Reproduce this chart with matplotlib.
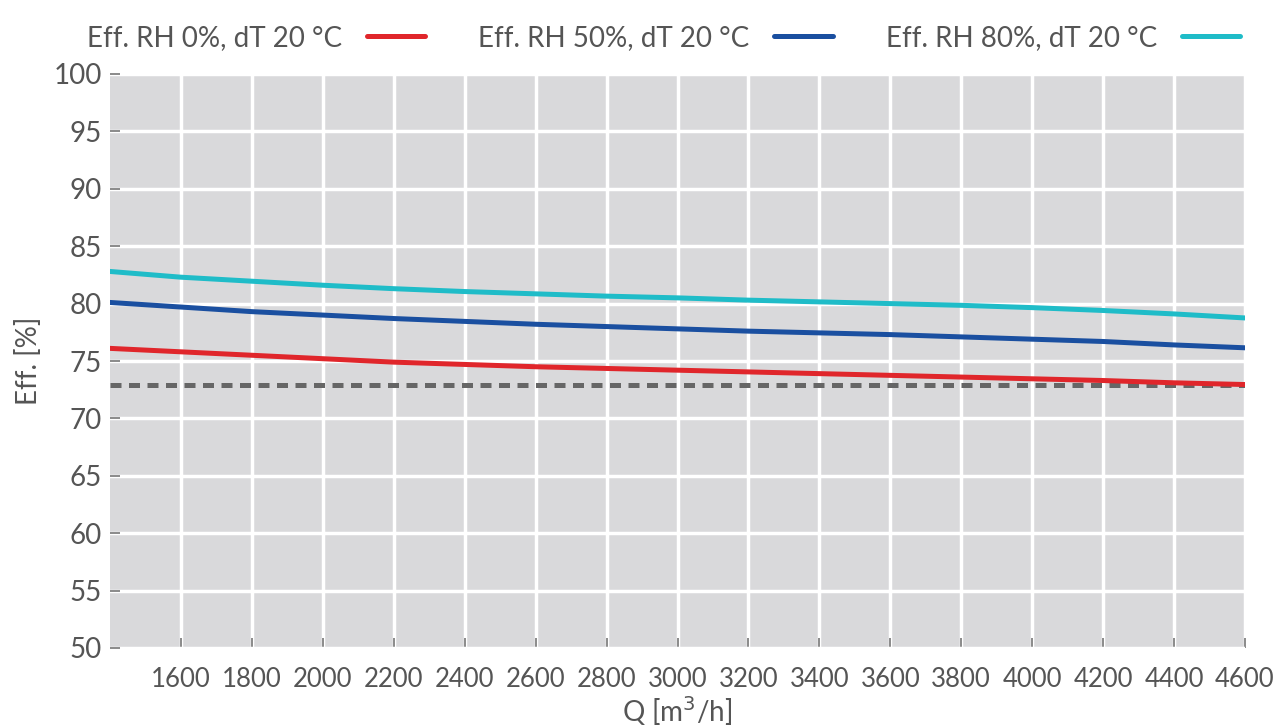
import matplotlib
matplotlib.use('Agg')
import matplotlib.pyplot as plt
import numpy as np

# data
q = [1400, 1600, 1800, 2000, 2200, 2400, 2600, 2800, 3000, 3200, 3400, 3600, 3800, 4000, 4200, 4400, 4600]
eff_rh0 = [76.1, 75.8, 75.5, 75.2, 74.9, 74.7, 74.5, 74.35, 74.2, 74.05, 73.9, 73.75, 73.6, 73.45, 73.3, 73.1, 72.95]
eff_rh50 = [80.1, 79.7, 79.3, 79.0, 78.7, 78.45, 78.2, 78.0, 77.8, 77.6, 77.45, 77.3, 77.1, 76.9, 76.7, 76.4, 76.15]
eff_rh80 = [82.8, 82.3, 81.95, 81.6, 81.3, 81.05, 80.85, 80.65, 80.5, 80.3, 80.15, 80.0, 79.85, 79.65, 79.4, 79.1, 78.75]
eff_limit = 72.9

x_ticks = list(range(1600, 4601, 200))
y_ticks = list(range(50, 101, 5))

txt = '#555555'
plt.rcParams['font.family'] = ['Lato', 'DejaVu Sans']

fig = plt.figure(figsize=(12.77, 7.27), dpi=100)
ax = fig.add_axes([110/1277, 1 - 648/727, 1135/1277, 574/727])
ax.set_facecolor('#d9d9db')

ax.plot(q, eff_rh0, color='#e0262b', lw=3.6, solid_capstyle='round', label='Eff. RH 0%, dT 20 °C', zorder=3)
ax.plot(q, eff_rh50, color='#1a4fa0', lw=3.6, solid_capstyle='round', label='Eff. RH 50%, dT 20 °C', zorder=3)
ax.plot(q, eff_rh80, color='#1fbcc8', lw=3.6, solid_capstyle='round', label='Eff. RH 80%, dT 20 °C', zorder=3)
ax.axhline(eff_limit, color='#666666', lw=3.6, ls=(0, (2.2, 1.5)), zorder=2)

ax.set_xlim(1400, 4600)
ax.set_ylim(50, 100)
ax.set_xticks(x_ticks)
ax.set_yticks(y_ticks)
ax.grid(True, color='white', lw=2.5)
ax.set_axisbelow(True)
for s in ax.spines.values():
    s.set_visible(False)
ax.tick_params(axis='both', direction='in', length=7, width=1.2, color='#777777',
               labelsize=20, labelcolor=txt)
ax.tick_params(axis='x', pad=14, labelsize=18.5)
ax.tick_params(axis='y', pad=6)

ax.set_xlabel('Q [m$^3$/h]', fontsize=20, color=txt, labelpad=1)
ax.set_ylabel('Eff. [%]', fontsize=20, color=txt, labelpad=8)

fig.legend(loc='upper left', bbox_to_anchor=(62/1277, 1.0), ncol=3, frameon=False,
           markerfirst=False, fontsize=20, labelcolor=txt, handlelength=2.1,
           handletextpad=0.9, columnspacing=1.9)

fig.savefig('out.png', dpi=100)
